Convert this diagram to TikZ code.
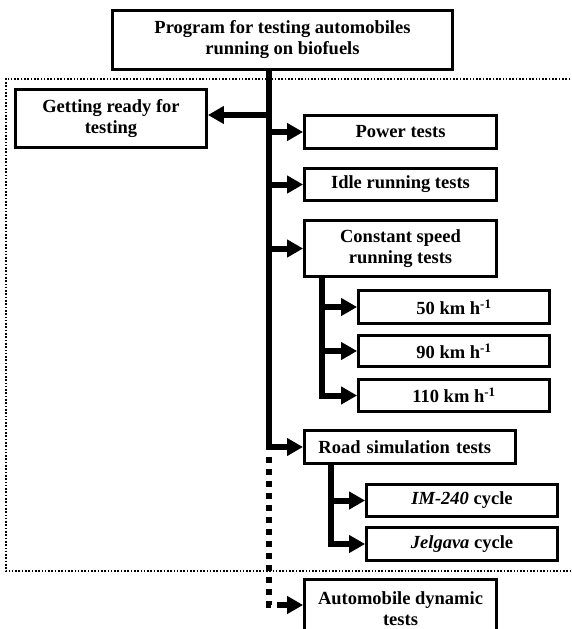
\documentclass[tikz,border=0pt]{standalone}
\usepackage{fontspec}
\setmainfont{Liberation Serif}
\usetikzlibrary{arrows.meta}
\tikzset{
  box/.style={draw, line width=2.8pt, inner sep=0pt, align=center,
    font=\fontsize{18.5}{21}\selectfont\bfseries},
  arr/.style={line width=6pt, -{Triangle[length=16pt,width=17pt]}},
  square dots/.style={line width=6pt, dash pattern=on 6pt off 6pt},
  frame/.style={line width=1.6pt, dash pattern=on 1.6pt off 1.7pt}
}
\begin{document}
\begin{tikzpicture}[x=1pt,y=-1pt]
\clip (0,0) rectangle (571,629);
\fill[white] (0,0) rectangle (571,629);

% dotted frame round the main programme
\draw[frame] (580,79) -- (5.7,79) -- (5.7,571) -- (580,571);

% boxes
\node[box, minimum width=340pt, minimum height=59pt] (top) at (282.5,40)
  {Program for testing automobiles\\running on biofuels};
\node[box, minimum width=191pt, minimum height=58pt] (ready) at (111,118.5)
  {Getting ready for\\testing};
\node[box, minimum width=192pt, minimum height=33pt] (power) at (400.5,132) {Power tests};
\node[box, minimum width=192pt, minimum height=32pt] (idle) at (400.5,184.5) {Idle running tests};
\node[box, minimum width=192pt, minimum height=56pt] (const) at (400.5,248.5)
  {Constant speed\\running tests};
\node[box, minimum width=191pt, minimum height=33pt] (k50) at (454,307) {50 km h\textsuperscript{-1}};
\node[box, minimum width=191pt, minimum height=31pt] (k90) at (454,351) {90 km h\textsuperscript{-1}};
\node[box, minimum width=191pt, minimum height=32pt] (k110) at (454,395.5) {110 km h\textsuperscript{-1}};
\node[box, anchor=west, inner xsep=14pt, text width=183pt, align=left,
  minimum height=33pt] (road) at (303,447) {Road simulation tests};
\node[box, minimum width=191pt, minimum height=32pt] (im) at (462,500.5) {\textit{IM-240} cycle};
\node[box, minimum width=191pt, minimum height=33pt] (jel) at (462,544) {\textit{Jelgava} cycle};
\node[box, anchor=north, minimum width=192pt, inner ysep=12pt] (auto) at (400.5,578)
  {Automobile dynamic\\tests};

% main trunk
\coordinate (tk) at (269.3,71);
\coordinate (jready) at (269.3,115);
\draw[arr] (tk) -- (tk |- road.west) -- (road.west);
\draw[arr] (jready) -- (jready -| ready.east);
\draw[arr] (power.west -| tk) -- (power.west);
\draw[arr] (idle.west -| tk) -- (idle.west);
\draw[arr] (const.west -| tk) -- (const.west);

% constant speed branches
\coordinate (ck) at (322,277);
\draw[arr] (ck) -- (ck |- k110.west) -- (k110.west);
\draw[arr] (k50.west -| ck) -- (k50.west);
\draw[arr] (k90.west -| ck) -- (k90.west);

% road simulation branches
\coordinate (rk) at (331,464);
\draw[arr] (rk) -- (rk |- jel.west) -- (jel.west);
\draw[arr] (im.west -| rk) -- (im.west);

% dotted continuation to the dynamic tests
\coordinate (dk) at (269.3,457);
\coordinate (dcorner) at (269.3,605);
\coordinate (dshaft) at (282,605);
\draw[square dots] (dk) -- (dcorner) -- (dshaft);
\draw[arr] (dshaft) -- (dshaft -| auto.west);
\end{tikzpicture}
\end{document}
